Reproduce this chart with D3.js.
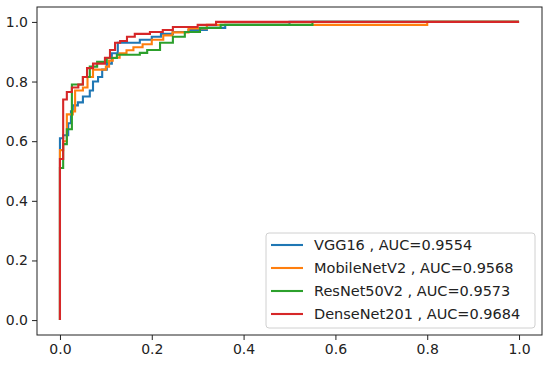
<!DOCTYPE html>
<html lang="en">
<head>
  <meta charset="UTF-8">
  <title>ROC curves</title>
  <script src="https://d3js.org/d3.v7.min.js"></script>
  <style>
    body {
      margin: 0;
      padding: 0;
      background: #fff;
    }
    svg text {
      font-family: 'DejaVu Sans', sans-serif;
      fill: #222;
    }
  </style>
</head>
<body>
<div id="chart"></div>

<script>
// Model names and AUC values
const models = ["VGG16", "MobileNetV2", "ResNet50V2", "DenseNet201"];
const aucs = [0.9554, 0.9568, 0.9573, 0.9684];
const colors = ["#1f77b4", "#ff7f0e", "#2ca02c", "#d62728"];

// ROC corners (fpr, tpr after each jump)
const vggFpr = [0, 0, 0.007, 0.018, 0.024, 0.028, 0.039, 0.05, 0.065, 0.072, 0.083, 0.092, 0.102, 0.113, 0.126, 0.174, 0.20, 0.22, 0.246, 0.28, 0.32, 0.36, 0.50, 1];
const vggTpr = [0, 0.61, 0.62, 0.66, 0.70, 0.72, 0.73, 0.75, 0.77, 0.80, 0.815, 0.84, 0.86, 0.895, 0.93, 0.94, 0.95, 0.96, 0.966, 0.973, 0.98, 0.99, 1.0, 1];

const mobFpr = [0, 0, 0.007, 0.015, 0.028, 0.033, 0.05, 0.06, 0.072, 0.10, 0.107, 0.115, 0.13, 0.145, 0.16, 0.18, 0.20, 0.225, 0.245, 0.28, 0.32, 0.80, 1];
const mobTpr = [0, 0.57, 0.60, 0.69, 0.70, 0.77, 0.78, 0.815, 0.84, 0.85, 0.87, 0.88, 0.895, 0.905, 0.915, 0.925, 0.94, 0.955, 0.965, 0.978, 0.99, 1.0, 1];

const resFpr = [0, 0, 0.007, 0.015, 0.026, 0.05, 0.065, 0.081, 0.102, 0.124, 0.174, 0.19, 0.218, 0.246, 0.272, 0.305, 0.35, 0.55, 1];
const resTpr = [0, 0.51, 0.59, 0.64, 0.79, 0.815, 0.85, 0.866, 0.879, 0.89, 0.896, 0.906, 0.93, 0.95, 0.966, 0.98, 0.99, 1.0, 1];

const denFpr = [0, 0, 0.007, 0.015, 0.026, 0.04, 0.05, 0.059, 0.072, 0.098, 0.109, 0.12, 0.131, 0.146, 0.163, 0.196, 0.224, 0.246, 0.30, 0.34, 1];
const denTpr = [0, 0.54, 0.74, 0.765, 0.78, 0.79, 0.815, 0.845, 0.86, 0.88, 0.906, 0.93, 0.936, 0.95, 0.96, 0.966, 0.973, 0.983, 0.99, 1.0, 1];

const xTicks = [0, 0.2, 0.4, 0.6, 0.8, 1.0];
const yTicks = [0, 0.2, 0.4, 0.6, 0.8, 1.0];

const fprs = [vggFpr, mobFpr, resFpr, denFpr];
const tprs = [vggTpr, mobTpr, resTpr, denTpr];

const width = 550, height = 365;
const margin = {top: 7, right: 8, bottom: 30, left: 37};

const svg = d3.select("#chart").append("svg")
    .attr("width", width)
    .attr("height", height);

const x = d3.scaleLinear().domain([-0.05, 1.05]).range([margin.left, width - margin.right]);
const y = d3.scaleLinear().domain([-0.05, 1.05]).range([height - margin.bottom, margin.top]);

// curves
const line = d3.line()
    .x(d => x(d[0]))
    .y(d => y(d[1]))
    .curve(d3.curveStepAfter);

models.forEach((m, i) => {
  const pts = fprs[i].map((f, j) => [f, tprs[i][j]]);
  svg.append("path")
      .datum(pts)
      .attr("d", line)
      .attr("fill", "none")
      .attr("stroke", colors[i])
      .attr("stroke-width", 2.1)
      .attr("stroke-linejoin", "miter");
});

// axes
const xAxis = svg.append("g")
    .attr("transform", `translate(0,${height - margin.bottom})`)
    .call(d3.axisBottom(x).tickValues(xTicks).tickFormat(d3.format(".1f")).tickSizeOuter(0).tickSize(5).tickPadding(4));
const yAxis = svg.append("g")
    .attr("transform", `translate(${margin.left},0)`)
    .call(d3.axisLeft(y).tickValues(yTicks).tickFormat(d3.format(".1f")).tickSizeOuter(0).tickSize(5).tickPadding(4));

[xAxis, yAxis].forEach(g => {
  g.select(".domain").remove();
  g.selectAll("text").style("font-size", "14px").attr("fill", "#222");
  g.selectAll("line").attr("stroke", "#222").attr("stroke-width", 1);
});

// frame
svg.append("rect")
    .attr("x", margin.left)
    .attr("y", margin.top)
    .attr("width", width - margin.left - margin.right)
    .attr("height", height - margin.top - margin.bottom)
    .attr("fill", "none")
    .attr("stroke", "#222")
    .attr("stroke-width", 1);

// legend
const lg = svg.append("g").attr("transform", "translate(266,233)");
lg.append("rect")
    .attr("width", 269)
    .attr("height", 95)
    .attr("rx", 3)
    .attr("fill", "#fff")
    .attr("fill-opacity", 0.8)
    .attr("stroke", "#d0d0d0");

models.forEach((m, i) => {
  const row = lg.append("g").attr("transform", `translate(0,${12 + i * 23})`);
  row.append("line")
      .attr("x1", 5).attr("x2", 37)
      .attr("stroke", colors[i])
      .attr("stroke-width", 2.1);
  row.append("text")
      .attr("x", 48)
      .attr("dy", "0.35em")
      .style("font-size", "14.5px")
      .text(`${m} , AUC=${aucs[i]}`);
});
</script>
</body>
</html>
